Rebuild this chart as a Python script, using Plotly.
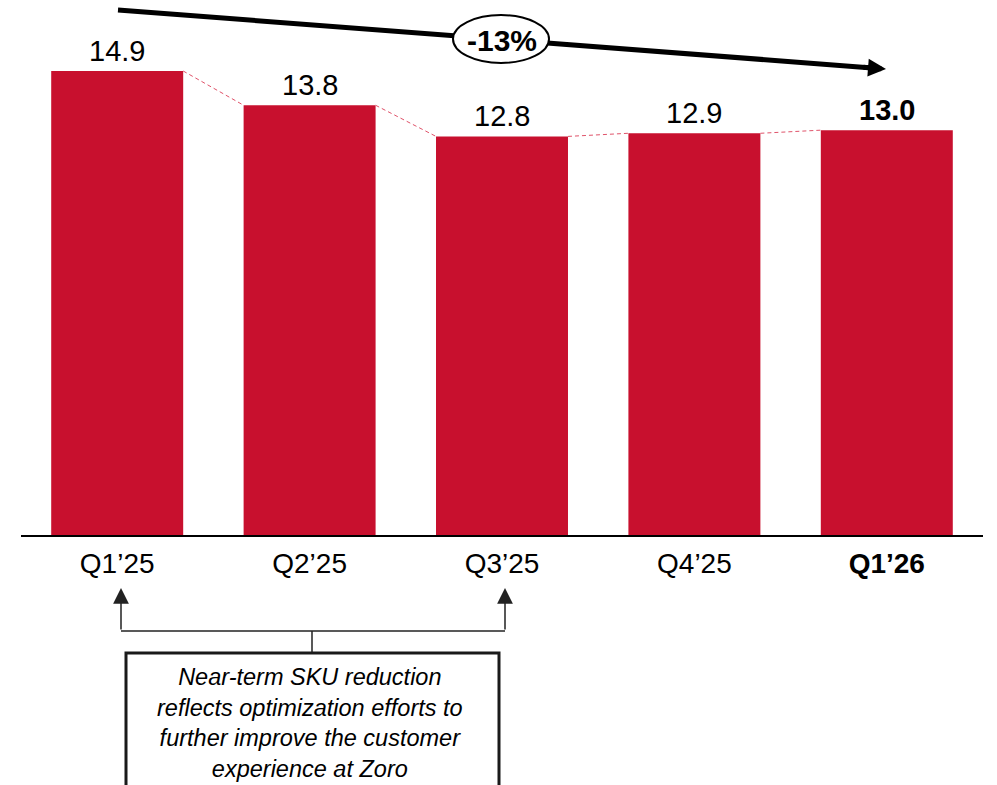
import plotly.graph_objects as go

# ---- data ----
categories = ["Q1’25", "Q2’25", "Q3’25", "Q4’25", "Q1’26"]
values = [14.9, 13.8, 12.8, 12.9, 13.0]
value_labels = ["14.9", "13.8", "12.8", "12.9", "<b>13.0</b>"]
tick_labels = ["Q1’25", "Q2’25", "Q3’25", "Q4’25", "<b>Q1’26</b>"]
change_label = "<b>-13%</b>"
note_text = ("<i>Near-term SKU reduction<br>reflects optimization efforts to<br>"
             "further improve the customer<br>experience at Zoro</i>")

# ---- layout constants (pixels) ----
W, H = 997, 785
L, R, T, B = 21, 983, 0, 535
YMAX = 17.18
BAR_W = 0.686
FONT = "Liberation Sans, Arial, sans-serif"
RED = "#C8102E"


def px(x):
    return (x - L) / (R - L)


def py(y):
    return (B - y) / (B - T)


xs = list(range(len(categories)))

fig = go.Figure()
fig.add_trace(go.Bar(x=xs, y=values, width=BAR_W, marker=dict(color=RED, line=dict(width=0)),
                     hoverinfo="skip", showlegend=False))

# dashed connectors between bar top corners
cx, cy = [], []
hw = BAR_W / 2
for i in range(len(values) - 1):
    cx += [xs[i] + hw, xs[i + 1] - hw, None]
    cy += [values[i], values[i + 1], None]
fig.add_trace(go.Scatter(x=cx, y=cy, mode="lines", line=dict(color="#E0536A", width=1, dash="4px,3px"),
                         hoverinfo="skip", showlegend=False))

annotations = []
for i, (v, t) in enumerate(zip(values, value_labels)):
    annotations.append(dict(x=xs[i], y=v, xref="x", yref="y", text=t, showarrow=False,
                            xanchor="center", yanchor="bottom", yshift=2,
                            font=dict(size=29, color="black", family=FONT)))

shapes = []
# trend line
tail = (118, 10)
tip = (886, 69)
slope = (tip[1] - tail[1]) / (tip[0] - tail[0])
line_end_x = tip[0] - 14
shapes.append(dict(type="line", xref="paper", yref="paper", x0=px(tail[0]), y0=py(tail[1]),
                   x1=px(line_end_x), y1=py(tail[1] + slope * (line_end_x - tail[0])),
                   line=dict(color="black", width=5)))
# ellipse
shapes.append(dict(type="circle", xref="paper", yref="paper", x0=px(453), x1=px(549), y0=py(15), y1=py(63),
                   fillcolor="white", line=dict(color="black", width=2)))
annotations.append(dict(x=px(502), y=py(40), xref="paper", yref="paper", text=change_label, showarrow=False,
                        xanchor="center", yanchor="middle",
                        font=dict(size=30, color="black", family=FONT)))
# arrowhead of trend line
annotations.append(dict(x=px(tip[0]), y=py(tip[1]), xref="paper", yref="paper", text="", showarrow=True,
                        arrowhead=2, arrowsize=0.72, arrowwidth=5, arrowcolor="black",
                        ax=-24, ay=-24 * slope, standoff=0))

# bottom bracket
bx1, bx2, by = 121, 505, 631
for bx in (bx1, bx2):
    annotations.append(dict(x=px(bx), y=py(588), xref="paper", yref="paper", text="", showarrow=True,
                            arrowhead=2, arrowsize=2.1, arrowwidth=1.5, arrowcolor="#222222",
                            ax=0, ay=by - 588, standoff=0))
shapes.append(dict(type="line", xref="paper", yref="paper", x0=px(bx1), x1=px(bx2), y0=py(by), y1=py(by),
                   line=dict(color="#222222", width=1.5)))
shapes.append(dict(type="line", xref="paper", yref="paper", x0=px(312), x1=px(312), y0=py(by), y1=py(653),
                   line=dict(color="#222222", width=1.5)))
shapes.append(dict(type="rect", xref="paper", yref="paper", x0=px(126), x1=px(499), y0=py(653), y1=py(800),
                   line=dict(color="#1a1a1a", width=3), fillcolor="rgba(0,0,0,0)"))
annotations.append(dict(x=px(310), y=py(723), xref="paper", yref="paper", text=note_text, showarrow=False,
                        xanchor="center", yanchor="middle", align="center",
                        font=dict(size=23.5, color="black", family=FONT)))

fig.update_layout(
    width=W, height=H,
    margin=dict(l=L, r=W - R, t=T, b=H - B, pad=0),
    plot_bgcolor="white", paper_bgcolor="white",
    bargap=0.3,
    xaxis=dict(range=[-0.5, len(categories) - 0.5], tickvals=xs, ticktext=tick_labels,
               showline=True, linecolor="black", linewidth=2, showgrid=False, zeroline=False,
               ticks="", ticklabelstandoff=2, tickfont=dict(size=28, color="black", family=FONT)),
    yaxis=dict(range=[0, YMAX], visible=False, showgrid=False, zeroline=False),
    shapes=shapes,
    annotations=annotations,
    font=dict(family=FONT),
)

fig.write_html("out.html")
